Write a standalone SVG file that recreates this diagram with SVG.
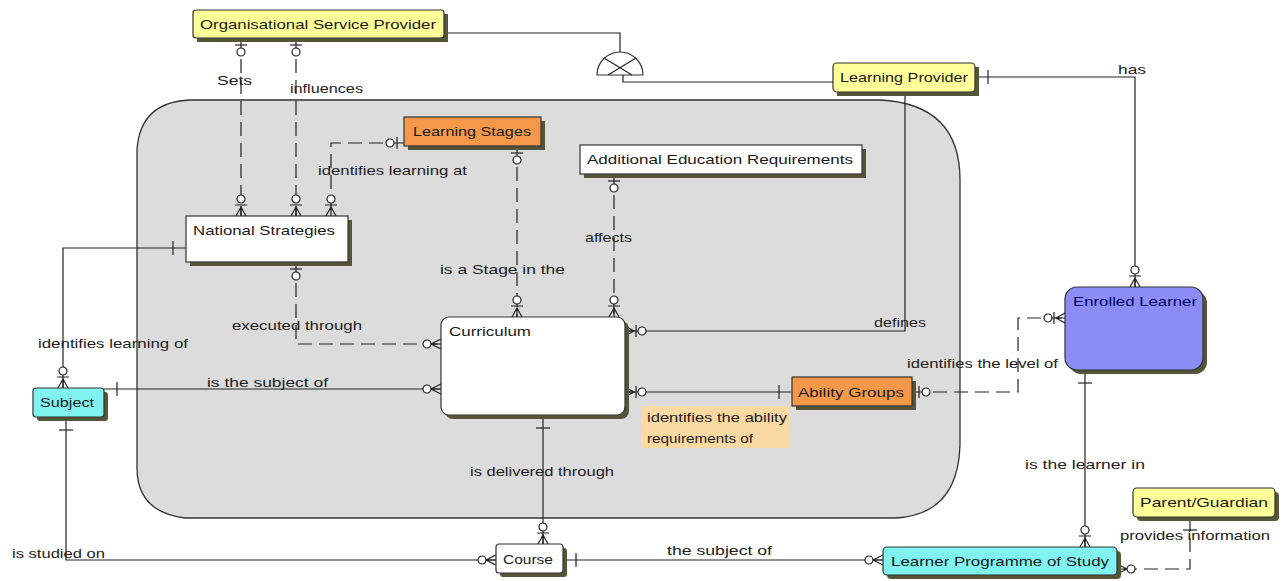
<svg xmlns="http://www.w3.org/2000/svg" width="1285" height="581" viewBox="0 0 1285 581">
<style>
text{font-family:"Liberation Sans",Arial,sans-serif;font-size:13px;fill:#222}
.nt{font-size:13px;fill:#1a1a1a}
.box{stroke:#333;stroke-width:1.2}
.sh{fill:#55553a}
.yel{fill:#ffff99}
.org{fill:#f5984a}
.cyn{fill:#80f2f0}
.wht{fill:#ffffff}
.blu{fill:#8c8cf7}
.c{fill:none;stroke:#222;stroke-width:1.2}
.d{stroke-dasharray:14 7}
</style>
<defs>
<marker id="cfz" markerUnits="userSpaceOnUse" markerWidth="30" markerHeight="20" refX="0" refY="0" viewBox="-24 -10 30 20" orient="auto-start-reverse" overflow="visible">
<path d="M0,-5 L-10,0 L0,5 M0,0 H-10" fill="none" stroke="#222" stroke-width="1.2"/>
<circle cx="-14" cy="0" r="4" fill="#fff" stroke="#222" stroke-width="1.2"/>
</marker>
<marker id="cfzb" markerUnits="userSpaceOnUse" markerWidth="30" markerHeight="20" refX="0" refY="0" viewBox="-24 -10 30 20" orient="auto-start-reverse" overflow="visible">
<path d="M0,-5 L-9,0 L0,5 M0,0 H-9 M-11,-6 V6" fill="none" stroke="#222" stroke-width="1.2"/>
<circle cx="-17" cy="0" r="4" fill="#fff" stroke="#222" stroke-width="1.2"/>
</marker>
<marker id="zo" markerUnits="userSpaceOnUse" markerWidth="30" markerHeight="20" refX="0" refY="0" viewBox="-24 -10 30 20" orient="auto-start-reverse" overflow="visible">
<path d="M-7,-6 V6" fill="none" stroke="#222" stroke-width="1.2"/>
<circle cx="-14" cy="0" r="4" fill="#fff" stroke="#222" stroke-width="1.2"/>
</marker>
<marker id="one" markerUnits="userSpaceOnUse" markerWidth="30" markerHeight="20" refX="0" refY="0" viewBox="-24 -10 30 20" orient="auto-start-reverse" overflow="visible">
<path d="M-13,-7 V7" fill="none" stroke="#222" stroke-width="1.2"/>
</marker>
</defs>
<rect width="1285" height="581" fill="#fff"/>
<g id="container">
<path d="M190,100 L880,100 Q960,104 960,180 L960,445 Q958,515 895,518 L185,518 Q137,512 137,468 L137,150 Q140,102 190,100 Z" fill="#dcdcdc" stroke="#333" stroke-width="1.3"/>
</g>
<g id="connectors">
<path class="c" d="M444,33 H620 V52"/>
<path d="M597,75 A23,23 0 0 1 643,75 Z" fill="#fff" stroke="#333" stroke-width="1.2"/>
<path class="c" d="M604,58 L632,75 M636,58 L608,75"/>
<path class="c" d="M623,75 V82 H833"/>
<path class="c d" d="M241,38 V216" marker-start="url(#zo)" marker-end="url(#cfzb)"/>
<path class="c d" d="M296,38 V216" marker-start="url(#zo)" marker-end="url(#cfzb)"/>
<path class="c d" d="M404,143 H331 V216" marker-start="url(#zo)" marker-end="url(#cfzb)"/>
<path class="c d" d="M517,146 V317" marker-start="url(#zo)" marker-end="url(#cfzb)"/>
<path class="c d" d="M614,174 V317" marker-start="url(#zo)" marker-end="url(#cfzb)"/>
<path class="c d" d="M296,262 V344 H441" marker-start="url(#zo)" marker-end="url(#cfz)"/>
<path class="c" d="M186,248 H63 V388" marker-start="url(#one)" marker-end="url(#cfzb)"/>
<path class="c" d="M104,389 H441" marker-start="url(#one)" marker-end="url(#cfz)"/>
<path class="c" d="M66,417 V560 H496" marker-start="url(#one)" marker-end="url(#cfz)"/>
<path class="c" d="M543,415 V544" marker-start="url(#one)" marker-end="url(#cfzb)"/>
<path class="c" d="M563,560 H883" marker-start="url(#one)" marker-end="url(#cfz)"/>
<path class="c" d="M905,92 V331 H625" marker-end="url(#cfzb)"/>
<path class="c" d="M792,392 H625" marker-start="url(#one)" marker-end="url(#cfzb)"/>
<path class="c d" d="M912,392 H1018 V318 H1065" marker-start="url(#zo)" marker-end="url(#cfzb)"/>
<path class="c" d="M975,77 H1135 V287" marker-start="url(#one)" marker-end="url(#cfzb)"/>
<path class="c" d="M1085,370 V547" marker-start="url(#one)" marker-end="url(#cfzb)"/>
<path class="c d" d="M1190,517 V569 H1117" marker-start="url(#one)" marker-end="url(#cfz)"/>
</g>
<g id="labels">
<text x="217" y="85" textLength="35" lengthAdjust="spacingAndGlyphs">Sets</text>
<text x="290" y="93" textLength="73" lengthAdjust="spacingAndGlyphs">influences</text>
<text x="318" y="175" textLength="149" lengthAdjust="spacingAndGlyphs">identifies learning at</text>
<text x="440" y="274" textLength="125" lengthAdjust="spacingAndGlyphs">is a Stage in the</text>
<text x="585" y="242" textLength="47" lengthAdjust="spacingAndGlyphs">affects</text>
<text x="232" y="330" textLength="130" lengthAdjust="spacingAndGlyphs">executed through</text>
<text x="38" y="348" textLength="150" lengthAdjust="spacingAndGlyphs">identifies learning of</text>
<text x="207" y="387" textLength="121" lengthAdjust="spacingAndGlyphs">is the subject of</text>
<text x="874" y="327" textLength="52" lengthAdjust="spacingAndGlyphs">defines</text>
<text x="907" y="368" textLength="151" lengthAdjust="spacingAndGlyphs">identifies the level of</text>
<rect x="642" y="406" width="148" height="42" fill="#fbd9a2"/>
<text x="647" y="422" textLength="140" lengthAdjust="spacingAndGlyphs" fill="#3a3000">identifies the ability</text>
<text x="647" y="443" textLength="106" lengthAdjust="spacingAndGlyphs" fill="#3a3000">requirements of</text>
<text x="470" y="476" textLength="144" lengthAdjust="spacingAndGlyphs">is delivered through</text>
<text x="12" y="558" textLength="93" lengthAdjust="spacingAndGlyphs">is studied on</text>
<text x="667" y="555" textLength="105" lengthAdjust="spacingAndGlyphs">the subject of</text>
<text x="1025" y="469" textLength="120" lengthAdjust="spacingAndGlyphs">is the learner in</text>
<text x="1120" y="540" textLength="150" lengthAdjust="spacingAndGlyphs">provides information</text>
<text x="1118" y="74" textLength="28" lengthAdjust="spacingAndGlyphs">has</text>
</g>
<g id="osp"><rect class="sh" x="197" y="14" width="251" height="28"/><rect class="box yel" x="193" y="10" width="251" height="28" rx="3"/><text class="nt" x="200" y="29" textLength="236" lengthAdjust="spacingAndGlyphs">Organisational Service Provider</text></g>
<g id="learning-provider"><rect class="sh" x="837" y="67" width="142" height="29"/><rect class="box yel" x="833" y="63" width="142" height="29" rx="4"/><text class="nt" x="840" y="82" textLength="128" lengthAdjust="spacingAndGlyphs">Learning Provider</text></g>
<g id="learning-stages"><rect class="sh" x="408" y="121" width="137" height="29"/><rect class="box org" x="404" y="117" width="137" height="29"/><text class="nt" x="413" y="136" textLength="118" lengthAdjust="spacingAndGlyphs">Learning Stages</text></g>
<g id="aer"><rect class="sh" x="584" y="149" width="282" height="29"/><rect class="box wht" x="580" y="145" width="282" height="29"/><text class="nt" x="587" y="164" textLength="266" lengthAdjust="spacingAndGlyphs">Additional Education Requirements</text></g>
<g id="national-strategies"><rect class="sh" x="190" y="220" width="162" height="46"/><rect class="box wht" x="186" y="216" width="162" height="46"/><text class="nt" x="193" y="235" textLength="142" lengthAdjust="spacingAndGlyphs">National Strategies</text></g>
<g id="curriculum"><rect class="sh" x="445" y="321" width="184" height="98" rx="8"/><rect class="box wht" x="441" y="317" width="184" height="98" rx="8"/><text class="nt" x="449" y="336" textLength="82" lengthAdjust="spacingAndGlyphs">Curriculum</text></g>
<g id="enrolled-learner"><rect class="sh" x="1069" y="291" width="138" height="83" rx="12"/><rect class="box blu" x="1065" y="287" width="138" height="83" rx="12"/><text class="nt" x="1073" y="306" textLength="124" lengthAdjust="spacingAndGlyphs" style="fill:#000066">Enrolled Learner</text></g>
<g id="ability-groups"><rect class="sh" x="796" y="381" width="120" height="29"/><rect class="box org" x="792" y="377" width="120" height="29"/><text class="nt" x="798" y="397" textLength="106" lengthAdjust="spacingAndGlyphs">Ability Groups</text></g>
<g id="subject"><rect class="sh" x="37" y="392" width="71" height="29" rx="3"/><rect class="box cyn" x="33" y="388" width="71" height="29" rx="3"/><text class="nt" x="40" y="407" textLength="54" lengthAdjust="spacingAndGlyphs">Subject</text></g>
<g id="course"><rect class="sh" x="500" y="548" width="67" height="29" rx="3"/><rect class="box wht" x="496" y="544" width="67" height="29" rx="3"/><text class="nt" x="503" y="564" textLength="50" lengthAdjust="spacingAndGlyphs">Course</text></g>
<g id="learner-programme"><rect class="sh" x="887" y="551" width="234" height="28" rx="4"/><rect class="box cyn" x="883" y="547" width="234" height="28" rx="4"/><text class="nt" x="891" y="566" textLength="218" lengthAdjust="spacingAndGlyphs">Learner Programme of Study</text></g>
<g id="parent-guardian"><rect class="sh" x="1137" y="492" width="142" height="29" rx="4"/><rect class="box yel" x="1133" y="488" width="142" height="29" rx="4"/><text class="nt" x="1140" y="507" textLength="128" lengthAdjust="spacingAndGlyphs">Parent/Guardian</text></g>
</svg>
